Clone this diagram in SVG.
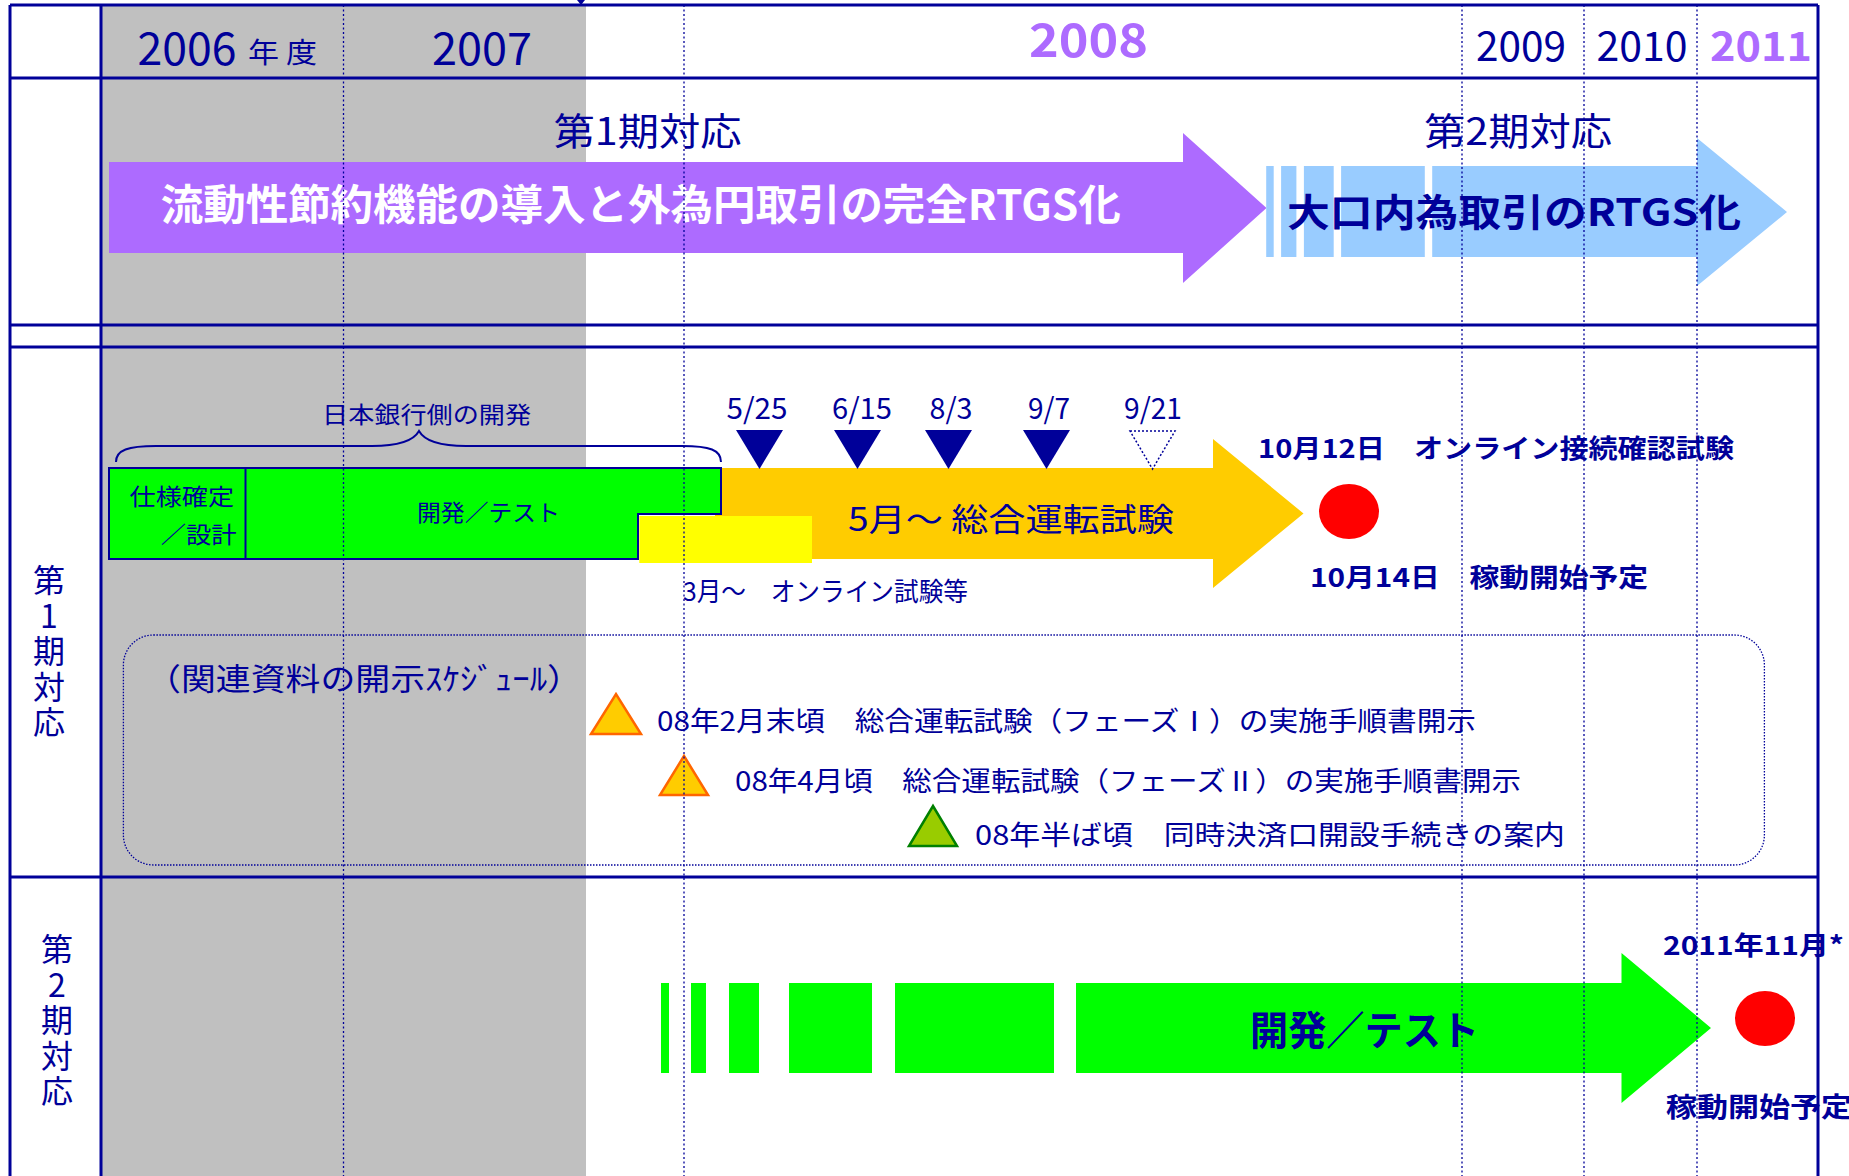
<svg xmlns="http://www.w3.org/2000/svg" width="1849" height="1176" viewBox="0 0 1849 1176">
<defs>
<style>
.t{font-family:"Noto Sans CJK JP","Noto Sans",sans-serif;fill:#000099}
.b{font-weight:bold}
.w{fill:#FFFFFF}
.p{fill:#AD6BFF}
.v{writing-mode:vertical-rl;text-orientation:upright;letter-spacing:3.5px}
.grid{stroke:#000099;stroke-width:3;fill:none}
.dot{stroke:#000099;stroke-width:1.3;stroke-dasharray:2 2.5;fill:none}
.navytri{fill:#000099}
.tri-o{fill:#FFCC00;stroke:#FF6600;stroke-width:2.5}
.tri-g{fill:#99CC00;stroke:#008000;stroke-width:2.5}
.red{fill:#FF0000}
.grn{fill:#00FF00}
</style>
</defs>
<rect width="1849" height="1176" fill="#FFFFFF"/>
<rect id="past-band" x="101" y="5" width="485" height="1171" fill="#C0C0C0"/>

<g id="header">
<text class="t" x="137.5" y="65" font-size="45" textLength="99" lengthAdjust="spacingAndGlyphs">2006</text>
<text class="t" x="248" y="63" font-size="28" textLength="69" lengthAdjust="spacingAndGlyphs">年 度</text>
<text class="t" x="432" y="65" font-size="45" textLength="100" lengthAdjust="spacingAndGlyphs">2007</text>
<text class="t b p" x="1029" y="57" font-size="46" textLength="119" lengthAdjust="spacingAndGlyphs">2008</text>
<text class="t" x="1476" y="61" font-size="40" textLength="90" lengthAdjust="spacingAndGlyphs">2009</text>
<text class="t" x="1596.5" y="61" font-size="40" textLength="91" lengthAdjust="spacingAndGlyphs">2010</text>
<text class="t b p" x="1710" y="61" font-size="40" textLength="102" lengthAdjust="spacingAndGlyphs">2011</text>
</g>

<g id="phase1-overview">
<text class="t" x="553.6" y="145" font-size="38" textLength="188" lengthAdjust="spacingAndGlyphs">第1期対応</text>
<polygon points="109,162 1183,162 1183,133 1266.5,208 1183,283 1183,253 109,253" fill="#AD6BFF"/>
<text class="t b w" x="160.7" y="220" font-size="42" textLength="960" lengthAdjust="spacingAndGlyphs">流動性節約機能の導入と外為円取引の完全RTGS化</text>
</g>

<g id="phase2-overview">
<text class="t" x="1424" y="145" font-size="38" textLength="188" lengthAdjust="spacingAndGlyphs">第2期対応</text>
<g fill="#99CCFF">
<rect x="1266.2" y="166" width="7.5" height="91"/>
<rect x="1281.1" y="166" width="15.3" height="91"/>
<rect x="1303.9" y="166" width="29.8" height="91"/>
<rect x="1341.1" y="166" width="83.7" height="91"/>
<polygon points="1432.2,166 1697,166 1697,138 1787,212 1697,286 1697,257 1432.2,257"/>
</g>
<text class="t b" x="1287" y="226" font-size="38" textLength="454" lengthAdjust="spacingAndGlyphs">大口内為取引のRTGS化</text>
</g>

<g id="phase1-label">
<text class="t v" x="49" y="564" font-size="32">第1期対応</text>
</g>

<g id="boj-dev">
<text class="t" x="322" y="423" font-size="23" textLength="209" lengthAdjust="spacingAndGlyphs">日本銀行側の開発</text>
<path d="M116,462 C116,450 128,446 156,446 L372,446 C400,446 414,440 419,431 C424,440 438,446 466,446 L682,446 C710,446 721,450 721,462" fill="none" stroke="#000099" stroke-width="2"/>
</g>

<g id="orange-arrow">
<polygon points="715,468 1213,468 1213,439 1303.5,513.5 1213,588 1213,559 715,559" fill="#FFCC00"/>
<text class="t" x="848" y="531" font-size="32" textLength="326" lengthAdjust="spacingAndGlyphs">5月～ 総合運転試験</text>
</g>

<g id="green-box">
<polygon points="109,468 721,468 721,514 638,514 638,559 109,559" fill="#00FF00" stroke="#000099" stroke-width="2"/>
<line x1="245.5" y1="468" x2="245.5" y2="559" stroke="#000099" stroke-width="2"/>
<text class="t" x="129.5" y="505" font-size="23" textLength="104.5" lengthAdjust="spacingAndGlyphs">仕様確定</text>
<text class="t" x="160.7" y="543" font-size="23" textLength="76" lengthAdjust="spacingAndGlyphs">／設計</text>
<text class="t" x="417" y="521" font-size="23" textLength="143" lengthAdjust="spacingAndGlyphs">開発／テスト</text>
</g>

<g id="online-test">
<rect x="639.3" y="516" width="172.7" height="47" fill="#FFFF00"/>
<text class="t" x="683" y="601" font-size="26" textLength="285" lengthAdjust="spacingAndGlyphs">3月～　オンライン試験等</text>
</g>

<g id="milestones">
<polygon class="navytri" points="736,430 783,430 759.5,469"/>
<polygon class="navytri" points="834,430 881,430 857.5,469"/>
<polygon class="navytri" points="925,430 972,430 948.5,469"/>
<polygon class="navytri" points="1023,430 1070,430 1046.5,469"/>
<polygon points="1130,431 1175,431 1152.5,469" fill="none" stroke="#000099" stroke-width="1.5" stroke-dasharray="2 2"/>
<g class="t" font-size="29" text-anchor="middle">
<text x="757" y="419" textLength="61" lengthAdjust="spacingAndGlyphs">5/25</text>
<text x="862" y="419" textLength="60" lengthAdjust="spacingAndGlyphs">6/15</text>
<text x="951" y="419" textLength="43" lengthAdjust="spacingAndGlyphs">8/3</text>
<text x="1049" y="419" textLength="42" lengthAdjust="spacingAndGlyphs">9/7</text>
<text x="1153" y="419" textLength="58" lengthAdjust="spacingAndGlyphs">9/21</text>
</g>
</g>

<g id="phase1-golive">
<text class="t b" x="1258" y="458" font-size="26" textLength="476" lengthAdjust="spacingAndGlyphs">10月12日　オンライン接続確認試験</text>
<ellipse class="red" cx="1349" cy="511.5" rx="30" ry="27.5"/>
<text class="t b" x="1310" y="587" font-size="26" textLength="338" lengthAdjust="spacingAndGlyphs">10月14日　稼動開始予定</text>
</g>

<g id="doc-schedule">
<rect x="123.4" y="635" width="1641" height="230" rx="30" ry="30" fill="none" stroke="#000099" stroke-width="1.3" stroke-dasharray="1.5 1.5"/>
<text class="t" x="146" y="690" font-size="31" textLength="436" lengthAdjust="spacingAndGlyphs">（関連資料の開示ｽｹｼﾞｭｰﾙ）</text>
<polygon class="tri-o" points="591,734 641,734 616,694"/>
<text class="t" x="657" y="731" font-size="27" textLength="819" lengthAdjust="spacingAndGlyphs">08年2月末頃　総合運転試験（フェーズⅠ）の実施手順書開示</text>
<polygon class="tri-o" points="660,795 708,795 684,756"/>
<text class="t" x="735" y="791" font-size="27" textLength="786" lengthAdjust="spacingAndGlyphs">08年4月頃　総合運転試験（フェーズⅡ）の実施手順書開示</text>
<polygon class="tri-g" points="909,846 957,846 933,806"/>
<text class="t" x="975" y="845" font-size="27" textLength="590" lengthAdjust="spacingAndGlyphs">08年半ば頃　同時決済口開設手続きの案内</text>
</g>

<g id="phase2-label">
<text class="t v" x="57" y="933" font-size="32">第2期対応</text>
</g>

<g id="phase2-dev">
<g class="grn">
<rect x="661" y="983" width="8" height="90"/>
<rect x="691" y="983" width="15" height="90"/>
<rect x="729" y="983" width="30" height="90"/>
<rect x="789" y="983" width="83" height="90"/>
<rect x="895" y="983" width="159" height="90"/>
<polygon points="1076,983 1621.5,983 1621.5,953 1711,1028 1621.5,1103 1621.5,1073 1076,1073"/>
</g>
<text class="t b" x="1250" y="1045" font-size="40" textLength="229" lengthAdjust="spacingAndGlyphs">開発／テスト</text>
</g>

<g id="phase2-golive">
<ellipse class="red" cx="1765" cy="1018.5" rx="30" ry="27.5"/>
<text class="t b" x="1663" y="955" font-size="26" textLength="181" lengthAdjust="spacingAndGlyphs">2011年11月*</text>
<text class="t b" x="1666" y="1117" font-size="27" textLength="186" lengthAdjust="spacingAndGlyphs">稼動開始予定</text>
</g>

<g id="connectors">
<line class="dot" x1="343.5" y1="5" x2="343.5" y2="1176"/>
<line class="dot" x1="684" y1="5" x2="684" y2="1176"/>
<line class="dot" x1="1462" y1="5" x2="1462" y2="1176"/>
<line class="dot" x1="1584" y1="5" x2="1584" y2="1176"/>
<line class="dot" x1="1697" y1="5" x2="1697" y2="1176"/>
<line class="grid" x1="10" y1="5" x2="1818" y2="5"/>
<line class="grid" x1="10" y1="78" x2="1818" y2="78"/>
<line class="grid" x1="10" y1="325" x2="1818" y2="325"/>
<line class="grid" x1="10" y1="347" x2="1818" y2="347"/>
<line class="grid" x1="10" y1="877" x2="1818" y2="877"/>
<line class="grid" x1="10" y1="5" x2="10" y2="1176"/>
<line class="grid" x1="101" y1="5" x2="101" y2="1176"/>
<line class="grid" x1="1818" y1="5" x2="1818" y2="1176"/>
<polygon points="577,0 585,0 581,5" fill="#000099"/>
</g>
</svg>
